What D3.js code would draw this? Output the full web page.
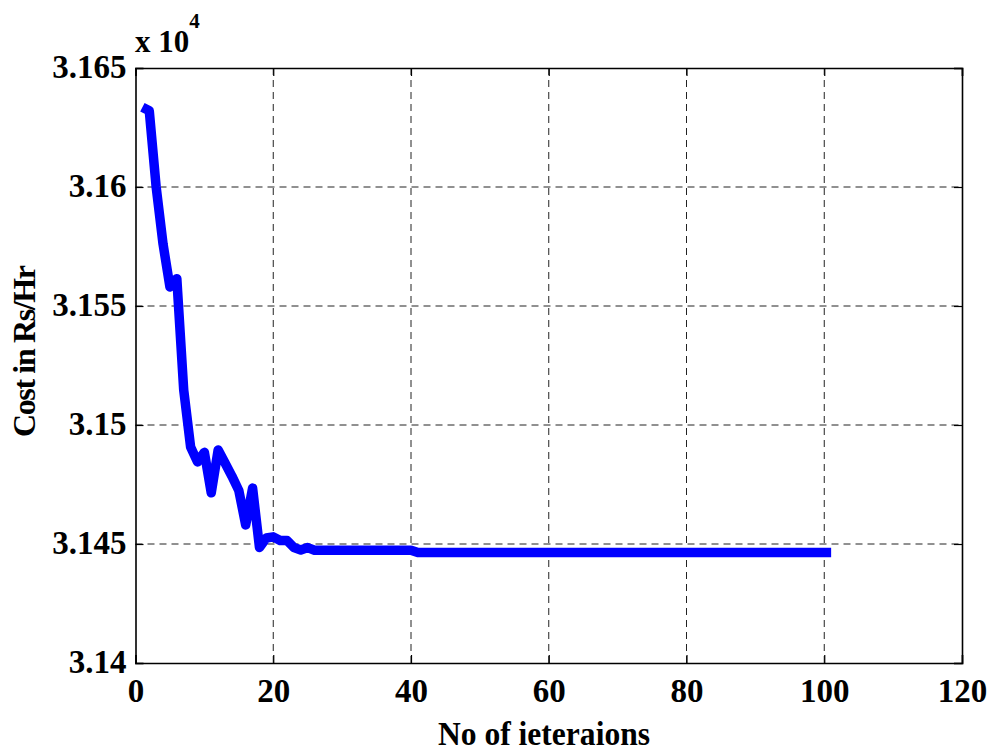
<!DOCTYPE html>
<html><head><meta charset="utf-8">
<script src="https://cdn.jsdelivr.net/npm/d3@7"></script>
<style>body{margin:0;background:#fff}svg{display:block}</style>
</head><body>
<svg id="c" width="992" height="753"></svg>
<script>
const iterations = d3.range(1, 102);
const costHead = [31633.5, 31632, 31600, 31576, 31558, 31561.5, 31514.7, 31490.8, 31484.5, 31488.5,
  31471.5, 31489.5, 31484, 31478.5, 31472.5, 31458, 31473.5, 31448.5, 31452.5, 31453,
  31451.5, 31451.5, 31448.5, 31447.5, 31448.5];
const costPlateau1 = 31447.4; // iterations 26..40
const costPlateau2 = 31446.4; // iterations 41..101
const cost = iterations.map(i => i <= 25 ? costHead[i-1] : (i <= 40 ? costPlateau1 : costPlateau2));
const xTicks = [0, 20, 40, 60, 80, 100, 120];
const yTicks = [31400, 31450, 31500, 31550, 31600, 31650];
const yTickLabels = ["3.14", "3.145", "3.15", "3.155", "3.16", "3.165"];

const svg = d3.select("#c");
const L = 135.5, R = 962, T = 68, B = 663;
const x = d3.scaleLinear().domain([0, 120]).range([L, R]);
const y = d3.scaleLinear().domain([31400, 31650]).range([B, T]);
const font = "'Liberation Serif','Times New Roman',serif";

// grid
const g = svg.append("g");
g.selectAll(".vx").data(xTicks.slice(1, -1)).enter().append("line")
  .attr("x1", d => x(d)).attr("x2", d => x(d)).attr("y1", T).attr("y2", B)
  .attr("stroke", "#222").attr("stroke-width", 1).attr("stroke-dasharray", "7,5");
g.selectAll(".hy").data(yTicks.slice(1, -1)).enter().append("line")
  .attr("y1", d => y(d)).attr("y2", d => y(d)).attr("x1", L).attr("x2", R)
  .attr("stroke", "#222").attr("stroke-width", 1).attr("stroke-dasharray", "7,5");

// line
svg.append("path").datum(iterations)
  .attr("d", d3.line().x(i => x(i)).y((i, k) => y(cost[k])))
  .attr("fill", "none").attr("stroke", "#0000ff").attr("stroke-width", 9.5)
  .attr("stroke-linejoin", "round").attr("stroke-linecap", "butt");

// axes
const xa = svg.append("g").attr("transform", `translate(0,${B})`)
  .call(d3.axisBottom(x).tickValues(xTicks).tickSize(-8).tickPadding(16).tickFormat(d3.format("d")));
const xt = svg.append("g").attr("transform", `translate(0,${T})`)
  .call(d3.axisTop(x).tickValues(xTicks).tickSize(-8).tickFormat(""));
const ya = svg.append("g").attr("transform", `translate(${L},0)`)
  .call(d3.axisLeft(y).tickValues(yTicks).tickSize(-8).tickPadding(9).tickFormat((d, k) => yTickLabels[k]));
const yr = svg.append("g").attr("transform", `translate(${R},0)`)
  .call(d3.axisRight(y).tickValues(yTicks).tickSize(-8).tickFormat(""));
[xa, xt, ya, yr].forEach(a => {
  a.select(".domain").attr("stroke", "#000").attr("stroke-width", 1.6);
  a.selectAll(".tick line").attr("stroke", "#000").attr("stroke-width", 1.2);
  a.selectAll("text").attr("font-family", font).attr("font-weight", "bold")
    .attr("font-size", 33).attr("fill", "#000");
});
xa.selectAll("text").attr("dy", "0.71em");
ya.selectAll("text").attr("dy", "0.3em");

// exponent
const ex = svg.append("text").attr("x", 135).attr("y", 52)
  .attr("font-family", font).attr("font-weight", "bold").attr("font-size", 31);
ex.append("tspan").text("x 10");
ex.append("tspan").attr("dy", -24).attr("font-size", 21).text("4");

// labels
svg.append("text").attr("x", 544).attr("y", 745).attr("text-anchor", "middle")
  .attr("font-family", font).attr("font-weight", "bold").attr("font-size", 34)
  .attr("textLength", 212).attr("lengthAdjust", "spacingAndGlyphs").text("No of ieteraions");
svg.append("text").attr("transform", "translate(35,351) rotate(-90)").attr("text-anchor", "middle")
  .attr("font-family", font).attr("font-weight", "bold").attr("font-size", 32)
  .attr("textLength", 172).attr("lengthAdjust", "spacing").text("Cost in Rs/Hr");
</script>
</body></html>
